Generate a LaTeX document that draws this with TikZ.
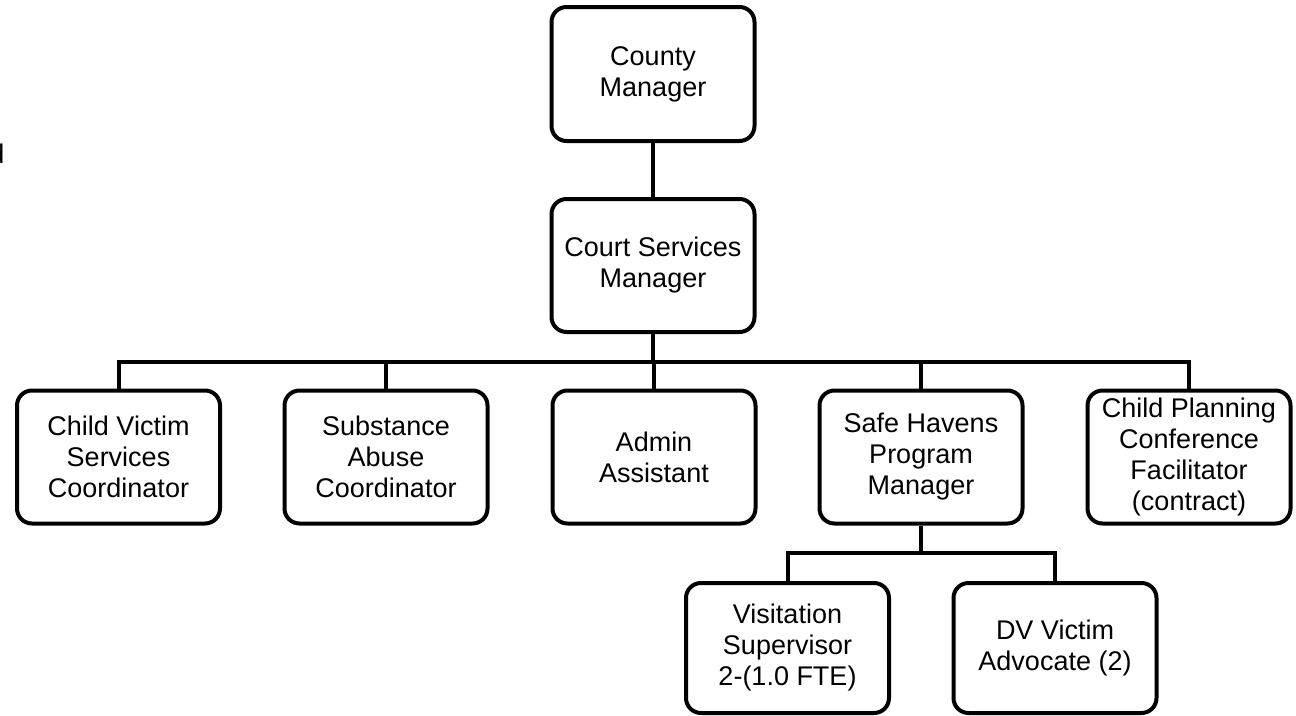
\documentclass[tikz,border=0pt]{standalone}
\usepackage{fontspec}
\setmainfont{Liberation Sans}
\begin{document}
\begin{tikzpicture}[x=1pt,y=-1pt,
  box/.style={draw=black, line width=4pt, rounded corners=15pt, fill=white,
    minimum width=203pt, minimum height=133pt, align=center, inner sep=0pt,
    font=\fontsize{27}{31}\selectfont},
  conn/.style={draw=black, line width=4pt}]
\useasboundingbox (0,0) rectangle (1296,715);
\node[anchor=base east, font=\fontsize{27}{31}\selectfont, inner sep=0pt] (frag) at (4.5,163) {d};
\node[box, minimum height=134pt] (cm) at (653,74) {County\\Manager};
\node[box] (cs) at (653,265.5) {Court Services\\Manager};
\node[box] (cv) at (118.5,457) {Child Victim\\Services\\Coordinator};
\node[box] (sa) at (386,457) {Substance\\Abuse\\Coordinator};
\node[box] (aa) at (654,457) {Admin\\Assistant};
\node[box] (sh) at (921,457) {Safe Havens\\Program\\Manager};
\node[box] (cp) at (1189,457) {Child Planning\\Conference\\Facilitator\\(contract)};
\node[box, minimum height=130pt] (vs) at (787.5,648) {Visitation\\Supervisor\\2-(1.0 FTE)};
\node[box, minimum height=130pt] (dv) at (1055,648) {DV Victim\\Advocate (2)};
\coordinate (bus) at (653,362);
\coordinate (sub) at (921,553);
\draw[conn] (cm.south) -- (cs.north);
\draw[conn] (cs.south) -- (bus);
\draw[conn] (bus) -| (cv.north);
\draw[conn] (bus) -| (sa.north);
\draw[conn] (bus) -| (aa.north);
\draw[conn] (bus) -| (sh.north);
\draw[conn] (bus) -| (cp.north);
\draw[conn] (sh.south) -- (sub);
\draw[conn] (sub) -| (vs.north);
\draw[conn] (sub) -| (dv.north);
\end{tikzpicture}
\end{document}
